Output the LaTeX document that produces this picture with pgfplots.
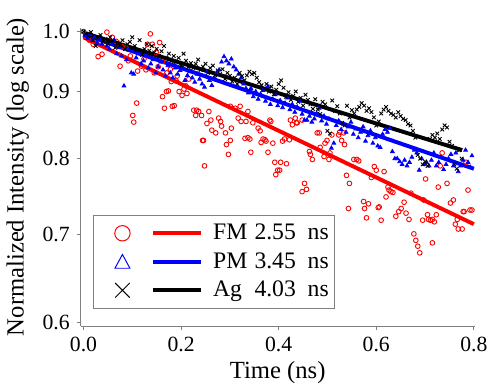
\documentclass[border=0pt]{standalone}
\usepackage{fontspec}
\setmainfont{Liberation Serif}
\usepackage{pgfplots}
\pgfplotsset{compat=1.18}
\definecolor{axgray}{RGB}{128,128,128}
\definecolor{myred}{RGB}{255,0,0}
\definecolor{myblue}{RGB}{0,0,255}
\begin{document}
\begin{tikzpicture}
\begin{axis}[
  scale only axis, width=200pt, height=151.5pt,
  xmin=-0.006, xmax=0.802, ymin=0.5959, ymax=1.007,
  ymode=log, yminorticks=false,
  axis x line*=bottom, axis y line*=left,
  axis line style={axgray, line width=0.5pt},
  every tick/.style={axgray, line width=0.5pt},
  tick align=outside, major tick length=2pt,
  xtick={0,0.2,0.4,0.6,0.8},
  xticklabels={\textrm{0.0},\textrm{0.2},\textrm{0.4},\textrm{0.6},\textrm{0.8}},
  ytick={0.6,0.7,0.8,0.9,1.0},
  yticklabels={\textrm{0.6},\textrm{0.7},\textrm{0.8},\textrm{0.9},\textrm{1.0}},
  tick label style={font=\fontsize{11}{13}\selectfont, black},
  xlabel={Time (ns)}, ylabel={Normalized Intensity (log scale)},
  label style={font=\fontsize{12.5}{14}\selectfont},
  xlabel style={yshift=2pt}, ylabel style={yshift=0pt},
  legend style={at={(0.0325,0.058)}, anchor=south west, draw=axgray, line width=0.5pt,
    font=\fontsize{12}{14}\selectfont, inner xsep=1pt, inner ysep=2.5pt, row sep=1pt,
    cells={anchor=west}},
  legend cell align=left,
]
% FM scatter
\addplot[only marks, mark=o, mark size=1.2pt, myred, mark options={line width=0.45pt}, forget plot] table {
0.000 1.000
0.005 0.990
0.012 0.985
0.020 0.978
0.030 0.957
0.038 0.961
0.048 0.999
0.059 0.990
0.067 0.983
0.075 0.941
0.079 0.974
0.087 0.972
0.092 0.950
0.096 0.958
0.101 0.863
0.103 0.853
0.109 0.882
0.111 0.933
0.119 0.941
0.124 0.953
0.128 0.935
0.131 0.978
0.137 0.996
0.141 0.978
0.145 0.930
0.149 0.964
0.153 0.940
0.156 0.981
0.162 0.949
0.162 0.892
0.166 0.874
0.170 0.900
0.171 0.930
0.174 0.901
0.178 0.936
0.180 0.916
0.182 0.877
0.186 0.878
0.190 0.917
0.192 0.925
0.196 0.900
0.202 0.894
0.206 0.904
0.210 0.909
0.212 0.897
0.216 0.920
0.226 0.871
0.230 0.863
0.232 0.871
0.236 0.869
0.242 0.863
0.244 0.826
0.246 0.826
0.248 0.790
0.253 0.851
0.257 0.869
0.261 0.856
0.263 0.841
0.271 0.837
0.277 0.859
0.281 0.854
0.283 0.847
0.291 0.837
0.293 0.820
0.297 0.806
0.301 0.826
0.303 0.844
0.301 0.877
0.311 0.874
0.317 0.859
0.321 0.877
0.323 0.854
0.331 0.829
0.333 0.854
0.337 0.869
0.337 0.830
0.341 0.828
0.343 0.809
0.347 0.852
0.358 0.844
0.362 0.840
0.364 0.823
0.368 0.828
0.372 0.827
0.374 0.825
0.378 0.809
0.382 0.856
0.384 0.854
0.388 0.822
0.392 0.795
0.394 0.778
0.398 0.784
0.402 0.784
0.404 0.795
0.408 0.825
0.412 0.828
0.416 0.793
0.422 0.827
0.424 0.856
0.428 0.849
0.434 0.859
0.436 0.852
0.438 0.852
0.448 0.856
0.448 0.755
0.453 0.766
0.457 0.758
0.463 0.810
0.465 0.806
0.469 0.799
0.479 0.837
0.483 0.837
0.485 0.816
0.493 0.803
0.495 0.822
0.499 0.826
0.503 0.799
0.505 0.808
0.509 0.834
0.523 0.834
0.525 0.838
0.529 0.826
0.533 0.837
0.535 0.820
0.539 0.777
0.543 0.733
0.545 0.766
0.554 0.799
0.560 0.799
0.564 0.797
0.574 0.742
0.576 0.733
0.580 0.721
0.584 0.739
0.590 0.774
0.596 0.789
0.600 0.784
0.604 0.734
0.606 0.735
0.610 0.718
0.616 0.782
0.620 0.748
0.624 0.761
0.626 0.757
0.630 0.755
0.634 0.754
0.640 0.723
0.646 0.729
0.651 0.733
0.657 0.741
0.661 0.727
0.667 0.719
0.671 0.753
0.677 0.701
0.681 0.693
0.685 0.686
0.689 0.678
0.695 0.718
0.697 0.744
0.701 0.772
0.705 0.725
0.707 0.719
0.711 0.718
0.715 0.719
0.715 0.690
0.719 0.716
0.723 0.725
0.727 0.761
0.731 0.790
0.735 0.808
0.745 0.766
0.752 0.740
0.758 0.744
0.762 0.713
0.766 0.719
0.768 0.707
0.776 0.707
0.778 0.729
0.780 0.729
0.784 0.795
0.788 0.757
0.792 0.731
0.796 0.731
};
% PM scatter
\addplot[only marks, mark=triangle*, mark size=1.1pt, myblue, forget plot] table {
0.003 0.993
0.008 0.988
0.013 0.995
0.018 0.985
0.023 0.990
0.028 0.980
0.033 0.986
0.038 0.978
0.043 0.983
0.048 0.975
0.053 0.970
0.058 0.978
0.063 0.985
0.068 0.962
0.073 0.972
0.078 0.958
0.083 0.909
0.088 0.952
0.093 0.968
0.098 0.930
0.103 0.928
0.108 0.955
0.113 0.962
0.118 0.945
0.123 0.950
0.128 0.958
0.133 0.938
0.138 0.945
0.143 0.952
0.148 0.930
0.153 0.940
0.158 0.948
0.163 0.935
0.168 0.925
0.173 0.942
0.178 0.930
0.183 0.922
0.188 0.938
0.193 0.928
0.198 0.934
0.203 0.940
0.208 0.918
0.213 0.926
0.218 0.932
0.223 0.922
0.228 0.915
0.233 0.928
0.238 0.920
0.243 0.912
0.248 0.907
0.253 0.932
0.258 0.918
0.263 0.910
0.268 0.922
0.273 0.930
0.278 0.935
0.283 0.948
0.288 0.957
0.293 0.950
0.298 0.945
0.303 0.953
0.308 0.940
0.313 0.935
0.318 0.928
0.323 0.922
0.328 0.912
0.333 0.905
0.338 0.898
0.343 0.905
0.348 0.892
0.353 0.900
0.358 0.888
0.363 0.896
0.368 0.902
0.373 0.885
0.378 0.908
0.383 0.880
0.388 0.888
0.393 0.895
0.398 0.878
0.403 0.886
0.408 0.875
0.413 0.882
0.418 0.890
0.423 0.872
0.428 0.880
0.433 0.868
0.438 0.876
0.443 0.885
0.448 0.865
0.453 0.856
0.458 0.856
0.463 0.862
0.468 0.853
0.473 0.858
0.478 0.866
0.483 0.874
0.488 0.855
0.493 0.862
0.498 0.850
0.503 0.858
0.508 0.815
0.513 0.822
0.518 0.848
0.523 0.855
0.528 0.842
0.533 0.850
0.538 0.838
0.543 0.846
0.548 0.853
0.553 0.835
0.558 0.843
0.563 0.830
0.568 0.838
0.573 0.846
0.578 0.825
0.583 0.833
0.588 0.840
0.593 0.822
0.598 0.830
0.603 0.818
0.608 0.816
0.613 0.835
0.618 0.842
0.623 0.838
0.628 0.844
0.633 0.810
0.638 0.800
0.643 0.800
0.648 0.796
0.653 0.792
0.658 0.798
0.663 0.790
0.668 0.795
0.673 0.802
0.678 0.812
0.683 0.808
0.688 0.784
0.693 0.800
0.698 0.792
0.703 0.795
0.708 0.790
0.713 0.798
0.718 0.808
0.723 0.790
0.728 0.795
0.733 0.802
0.738 0.785
0.743 0.792
0.748 0.800
0.753 0.806
0.758 0.790
0.763 0.808
0.768 0.782
0.773 0.790
0.778 0.798
0.783 0.812
0.788 0.795
0.793 0.788
0.796 0.804
};
% Ag scatter
\addplot[only marks, mark=x, mark size=1.3pt, black, mark options={line width=0.45pt}, forget plot] table {
0.000 1.000
0.005 0.996
0.010 0.992
0.015 0.999
0.020 0.985
0.025 0.975
0.030 0.990
0.035 0.994
0.040 0.983
0.045 0.987
0.050 0.979
0.055 0.990
0.060 0.984
0.065 0.972
0.070 0.981
0.075 0.976
0.080 0.985
0.085 0.970
0.090 0.978
0.095 0.982
0.100 0.990
0.105 0.975
0.110 0.968
0.115 0.985
0.120 0.960
0.125 0.970
0.130 0.978
0.135 0.967
0.140 0.975
0.145 0.964
0.150 0.970
0.155 0.958
0.160 0.966
0.165 0.975
0.170 0.955
0.175 0.962
0.180 0.950
0.185 0.958
0.190 0.948
0.195 0.955
0.200 0.942
0.205 0.962
0.210 0.950
0.215 0.940
0.220 0.946
0.225 0.938
0.230 0.945
0.235 0.952
0.240 0.935
0.245 0.940
0.250 0.945
0.255 0.930
0.260 0.938
0.265 0.942
0.270 0.926
0.275 0.934
0.280 0.928
0.285 0.936
0.290 0.920
0.295 0.930
0.300 0.925
0.305 0.916
0.310 0.922
0.315 0.912
0.320 0.930
0.325 0.925
0.330 0.918
0.335 0.926
0.340 0.932
0.345 0.928
0.350 0.930
0.355 0.922
0.360 0.915
0.365 0.910
0.370 0.905
0.375 0.912
0.380 0.900
0.385 0.908
0.390 0.896
0.395 0.903
0.400 0.912
0.405 0.918
0.410 0.906
0.415 0.892
0.420 0.899
0.425 0.887
0.430 0.893
0.435 0.900
0.440 0.884
0.445 0.890
0.450 0.878
0.455 0.895
0.460 0.887
0.465 0.880
0.470 0.873
0.475 0.888
0.480 0.872
0.485 0.865
0.490 0.884
0.495 0.880
0.500 0.840
0.505 0.836
0.510 0.886
0.515 0.870
0.520 0.877
0.525 0.866
0.530 0.852
0.535 0.848
0.540 0.878
0.545 0.860
0.550 0.871
0.555 0.866
0.560 0.872
0.565 0.876
0.570 0.882
0.575 0.878
0.580 0.870
0.585 0.874
0.590 0.868
0.595 0.860
0.600 0.848
0.605 0.854
0.610 0.866
0.615 0.872
0.620 0.876
0.625 0.870
0.630 0.866
0.635 0.864
0.640 0.860
0.645 0.868
0.650 0.862
0.655 0.858
0.660 0.856
0.665 0.850
0.670 0.848
0.675 0.840
0.680 0.830
0.685 0.805
0.690 0.800
0.695 0.792
0.700 0.796
0.705 0.790
0.710 0.828
0.715 0.834
0.720 0.830
0.725 0.836
0.730 0.828
0.735 0.842
0.740 0.848
0.745 0.845
0.750 0.824
0.755 0.818
0.760 0.792
0.765 0.786
0.770 0.812
0.775 0.800
};
% fits
\addplot[myred, line width=2pt,
  legend image code/.code={
    \path[draw=none, fill=none] (-13.5pt,0pt) -- (44pt,0pt);
    \draw[myred, line width=0.5pt] (0pt,0pt) circle (3.9pt);
    \draw[myred, line width=2pt] (15.5pt,0pt) -- (40pt,0pt);}]
  coordinates {(0,0.990) (0.8,0.713)};
\addlegendentry{\makebox[1.75em][l]{FM}2.55\hspace{0.5em}ns}
\addplot[myblue, line width=2pt,
  legend image code/.code={
    \path[draw=none, fill=none] (-13.5pt,0pt) -- (44pt,0pt);
    \draw[myblue, line width=0.5pt] (-3.8pt,-3.3pt) -- (3.8pt,-3.3pt) -- (0pt,3.7pt) -- cycle;
    \draw[myblue, line width=2pt] (15.5pt,0pt) -- (40pt,0pt);}]
  coordinates {(0,0.995) (0.8,0.786)};
\addlegendentry{\makebox[1.75em][l]{PM}3.45\hspace{0.5em}ns}
\addplot[black, line width=2pt,
  legend image code/.code={
    \path[draw=none, fill=none] (-13.5pt,0pt) -- (44pt,0pt);
    \draw[black, line width=0.5pt] (-3.7pt,-3.7pt) -- (3.7pt,3.7pt) (-3.7pt,3.7pt) -- (3.7pt,-3.7pt);
    \draw[black, line width=2pt] (15.5pt,0pt) -- (40pt,0pt);}]
  coordinates {(0,0.998) (0.776,0.812)};
\addlegendentry{\makebox[1.75em][l]{Ag}4.03\hspace{0.5em}ns}
\end{axis}
\path ([shift={(-40pt,-26.5pt)}]current axis.south west) rectangle ([shift={(7pt,14pt)}]current axis.north east);
\end{tikzpicture}
\end{document}
